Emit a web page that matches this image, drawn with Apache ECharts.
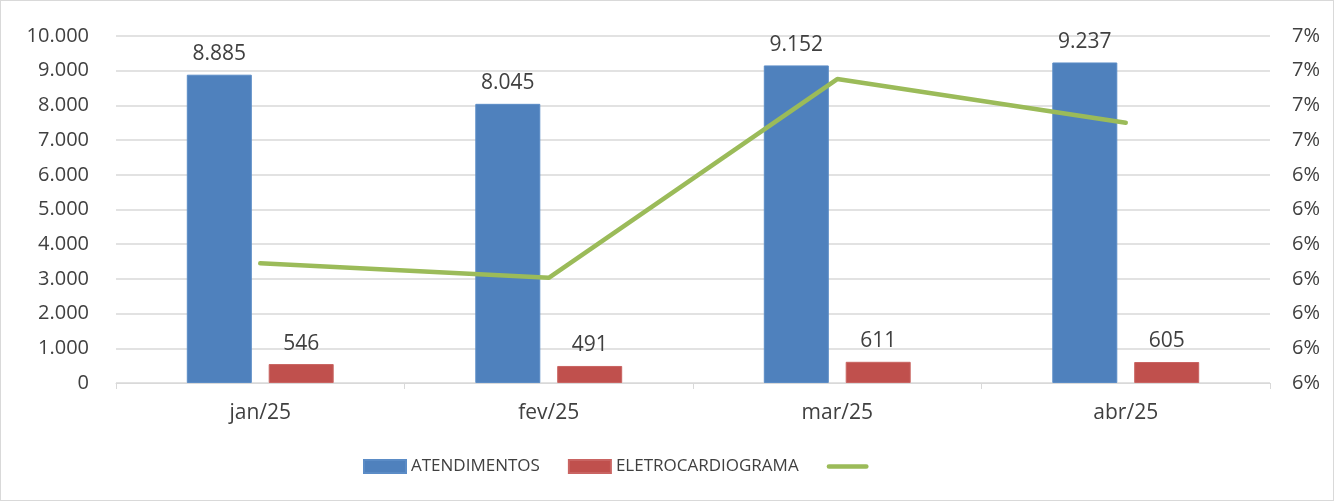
<!DOCTYPE html>
<html><head><meta charset="utf-8">
<script src="https://cdn.jsdelivr.net/npm/echarts@6/dist/echarts.min.js"></script>
<style>html,body{margin:0;padding:0;background:#fff}#c{box-sizing:border-box;border:1px solid #d9d9d9;width:1334px;height:501px}</style>
</head><body><div id="c"></div>
<script>
const categories = ['jan/25','fev/25','mar/25','abr/25'];
const atendimentos = [8885, 8045, 9152, 9237];
const eletro = [546, 491, 611, 605];
const percentual = [6.145, 6.103, 6.676, 6.550];
const leftTicks = [0,1000,2000,3000,4000,5000,6000,7000,8000,9000,10000];

const fmt = v => String(v).replace(/\B(?=(\d{3})+(?!\d))/g, '.');
const font = '"Open Sans", sans-serif';
const txt = '#404040';
const chart = echarts.init(document.getElementById('c'));
chart.setOption({
  animation:false,
  textStyle:{fontFamily:font},
  grid:{left:115,right:63,top:35,bottom:117,containLabel:false},
  legend:{
    bottom:20,left:357,itemWidth:42,itemHeight:13,itemGap:28,
    textStyle:{color:txt,fontSize:17,fontFamily:font},
    data:[{name:'ATENDIMENTOS',icon:'rect'},{name:'ELETROCARDIOGRAMA',icon:'rect'},
          {name:' ',icon:'path://M2.5,0 L42.5,0 A2.5,2.5 0 0 1 42.5,5 L2.5,5 A2.5,2.5 0 0 1 2.5,0 Z',itemStyle:{color:'#9bbb59'}}]
  },
  xAxis:{type:'category',data:categories,
    axisLine:{lineStyle:{color:'#d9d9d9'}},
    axisTick:{show:true,length:6,lineStyle:{color:'#d9d9d9'}},
    axisLabel:{color:txt,fontSize:21,margin:20}},
  yAxis:[
    {type:'value',min:leftTicks[0],max:leftTicks[leftTicks.length-1],interval:1000,
     axisLine:{show:false},axisTick:{show:false},
     splitLine:{lineStyle:{color:'#d9d9d9',width:1.5}},
     axisLabel:{color:txt,fontSize:20,margin:27,formatter:v=>fmt(v)}},
    {type:'value',min:5.8,max:6.8,interval:0.1,
     axisLine:{show:false},axisTick:{show:false},splitLine:{show:false},
     axisLabel:{color:txt,fontSize:20,margin:22,formatter:v=>Math.round(v+1e-9)+'%'}}
  ],
  series:[
    {name:'ATENDIMENTOS',type:'bar',data:atendimentos,barWidth:65,barGap:'26%',
     itemStyle:{color:'#4f81bd',borderColor:'#5b8cc6',borderWidth:1},
     label:{show:true,position:'top',distance:10,color:txt,fontSize:21,formatter:p=>fmt(p.value)}},
    {name:'ELETROCARDIOGRAMA',type:'bar',data:eletro,barWidth:65,
     itemStyle:{color:'#c0504d',borderColor:'#c96462',borderWidth:1},
     label:{show:true,position:'top',distance:10,color:txt,fontSize:21,formatter:p=>fmt(p.value)}},
    {name:' ',type:'line',yAxisIndex:1,data:percentual,symbol:'none',
     lineStyle:{color:'#9bbb59',width:4.5,cap:'round'},itemStyle:{color:'#9bbb59'}}
  ]
});
</script></body></html>
